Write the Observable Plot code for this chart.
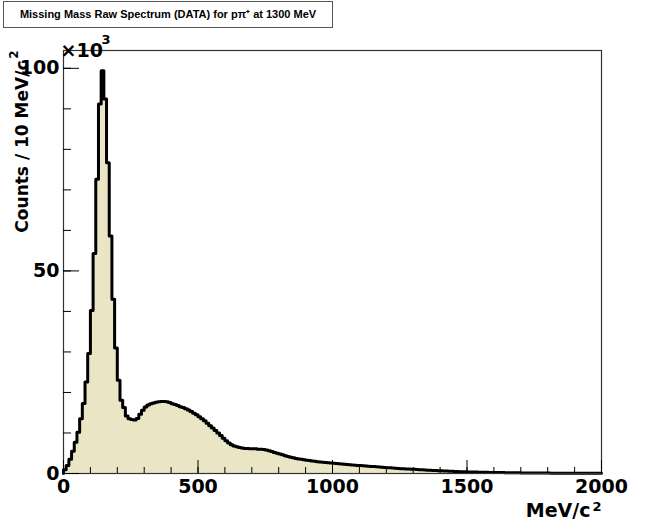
<!DOCTYPE html>
<html>
<head>
<meta charset="utf-8">
<script src="https://cdn.jsdelivr.net/npm/d3@7"></script>
<script src="https://cdn.jsdelivr.net/npm/@observablehq/plot@0.6"></script>
<style>
  html, body { margin: 0; padding: 0; background: #fff; }
  #wrap { position: relative; width: 667px; height: 525px; overflow: hidden; }
  #title {
    position: absolute; left: 3px; top: 1px; height: 27px; width: 330px;
    border: 1px solid #555; background: #fff; box-sizing: border-box;
    font-family: "Liberation Sans", Arial, sans-serif; font-weight: bold; font-size: 11px;
    line-height: 25px; text-align: center; white-space: nowrap; z-index: 2;
  }
  #chart { position: absolute; left: 0; top: 0; }
</style>
</head>
<body>
<div id="wrap">
  <div id="title">Missing Mass Raw Spectrum (DATA) for pπ⁺ at 1300 MeV</div>
  <div id="chart"></div>
</div>
<script>
// Histogram: 10 MeV/c^2 bins from 0 to 2000 MeV/c^2, counts in thousands
const binWidth = 10;
const xDomain = [0, 2000];
const yDomain = [0, 104.4];
const counts = [
  0.9, 2.0, 3.5, 5.5, 7.7, 10.2, 13.5, 17.3, 22.6, 29.6,
  40.2, 54.3, 72.6, 91.2, 99.4, 92.4, 76.7, 58.6, 43.0, 31.0,
  23.0, 18.1, 16.3, 14.2, 13.5, 13.3, 13.2, 13.6, 14.6, 15.6,
  16.4, 16.9, 17.2, 17.4, 17.6, 17.7, 17.8, 17.8, 17.7, 17.5,
  17.2, 17.0, 16.8, 16.5, 16.3, 16.0, 15.7, 15.3, 14.9, 14.5,
  14.0, 13.5, 13.0, 12.4, 11.8, 11.2, 10.6, 10.0, 9.4, 8.7,
  8.1, 7.5, 7.1, 6.8, 6.6, 6.4, 6.3, 6.2, 6.2, 6.1,
  6.1, 6.1, 6.0, 6.0, 5.9, 5.8, 5.6, 5.4, 5.2, 5.0,
  4.8, 4.6, 4.4, 4.2, 4.0, 3.9, 3.7, 3.6, 3.5, 3.4,
  3.3, 3.2, 3.1, 3.0, 2.9, 2.85, 2.8, 2.7, 2.65, 2.6,
  2.5, 2.45, 2.4, 2.35, 2.3, 2.2, 2.15, 2.1, 2.05, 2.0,
  1.95, 1.9, 1.85, 1.8, 1.75, 1.7, 1.65, 1.6, 1.55, 1.5,
  1.45, 1.4, 1.35, 1.3, 1.25, 1.2, 1.17, 1.13, 1.1, 1.06,
  1.02, 0.98, 0.95, 0.9, 0.86, 0.82, 0.78, 0.75, 0.72, 0.68,
  0.65, 0.62, 0.59, 0.56, 0.53, 0.5, 0.48, 0.46, 0.44, 0.42,
  0.4, 0.38, 0.36, 0.34, 0.32, 0.31, 0.3, 0.28, 0.27, 0.26,
  0.25, 0.24, 0.23, 0.22, 0.21, 0.2, 0.19, 0.18, 0.17, 0.16,
  0.15, 0.145, 0.14, 0.13, 0.125, 0.12, 0.115, 0.11, 0.105, 0.1,
  0.095, 0.09, 0.088, 0.085, 0.082, 0.08, 0.077, 0.074, 0.071, 0.068,
  0.065, 0.062, 0.06, 0.058, 0.056, 0.054, 0.052, 0.05, 0.048, 0.046
];
const xMajorTicks = [0, 500, 1000, 1500, 2000];
const xMinorTicks = d3.range(0, 2001, 100);
const yMajorTicks = [0, 50, 100];
const yMinorTicks = d3.range(0, 101, 10);
const xTitle = "MeV/c";
const yTitle = "Counts / 10 MeV/c";
const unitPower = "2";
const yExponent = "×10";
const yExponentPower = "3";

// step outline points (left edges + closing edge)
const steps = [{x: 0, y: 0}]
  .concat(counts.map((c, i) => ({x: i * binWidth, y: c})))
  .concat([{x: counts.length * binWidth, y: counts[counts.length - 1]}]);

const font = {fontFamily: "DejaVu Sans, sans-serif", fontWeight: "bold"};

const chart = Plot.plot({
  width: 667,
  height: 525,
  marginLeft: 63,
  marginRight: 66,
  marginTop: 50,
  marginBottom: 52,
  style: {fontFamily: "DejaVu Sans, sans-serif", fontWeight: "bold", fontSize: "18px", color: "black", background: "white"},
  x: {domain: xDomain},
  y: {domain: yDomain},
  marks: [
    Plot.areaY(steps, {x: "x", y: "y", curve: "step-after", fill: "#eae6c5"}),
    Plot.lineY(steps, {x: "x", y: "y", curve: "step-after", stroke: "black", strokeWidth: 3}),
    Plot.frame({stroke: "#333", strokeWidth: 1.2}),
    Plot.axisX({ticks: xMinorTicks, tickSize: -6, tickFormat: () => "", label: null, stroke: "black"}),
    Plot.axisX({ticks: xMajorTicks, tickSize: -13, tickFormat: () => "", label: null, stroke: "black"}),
    Plot.axisX({ticks: xMajorTicks, tickSize: 0, tickPadding: 6, tickFormat: d3.format("d"), label: null, fontSize: 19, ...font}),
    Plot.axisY({ticks: yMinorTicks, tickSize: -8, tickFormat: () => "", label: null, stroke: "black"}),
    Plot.axisY({ticks: yMajorTicks, tickSize: -16, tickFormat: () => "", label: null, stroke: "black"}),
    Plot.axisY({ticks: yMajorTicks, tickSize: 0, tickPadding: 4, tickFormat: d3.format("d"), label: null, fontSize: 19, ...font}),
    // x-axis title with superscript
    Plot.text([xTitle], {frameAnchor: "bottom-right", textAnchor: "end", dx: -11, dy: 43, fontSize: 19, ...font}),
    Plot.text([unitPower], {frameAnchor: "bottom-right", textAnchor: "end", dx: 0, dy: 37, fontSize: 13, ...font}),
    // exponent label
    Plot.text([yExponent], {frameAnchor: "top-left", textAnchor: "start", dx: -3, dy: -7, fontSize: 19, ...font}),
    Plot.text([yExponentPower], {frameAnchor: "top-left", textAnchor: "start", dx: 38, dy: -16, fontSize: 13, ...font}),
    // y-axis title with superscript (rotated)
    Plot.text([yTitle], {frameAnchor: "top-left", textAnchor: "end", rotate: -90, dx: -48, dy: 10, fontSize: 17, ...font}),
    Plot.text([unitPower], {frameAnchor: "top-left", textAnchor: "end", rotate: -90, dx: -54, dy: 0, fontSize: 12, ...font})
  ]
});
document.getElementById("chart").appendChild(chart);
</script>
</body>
</html>
